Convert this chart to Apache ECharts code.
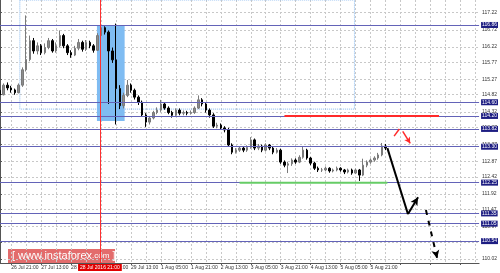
<!DOCTYPE html>
<html><head><meta charset="utf-8">
<script src="https://cdn.jsdelivr.net/npm/echarts@6/dist/echarts.min.js"></script>
<style>html,body{margin:0;padding:0;background:#fff}#c{width:500px;height:273px}</style>
</head><body><div id="c"></div>
<script>
// ---- data ----
const xTickLabels = ['26 Jul 21:00','27 Jul 13:00','28 Jul 05:00','28 Jul 21:00','29 Jul 13:00','1 Aug 05:00','1 Aug 21:00','2 Aug 13:00','3 Aug 05:00','3 Aug 21:00','4 Aug 13:00','5 Aug 05:00','5 Aug 21:00'];
const priceTicks = [117.22,116.72,116.22,115.77,115.27,114.82,114.32,113.87,113.37,112.87,112.42,111.92,111.47,110.97,110.52,110.02];
const levelLines = [116.86,114.60,114.20,113.82,113.30,112.25,111.35,111.05,110.54];
// [open, close, low, high] per 2-hour bar
const candles = [
[114.95,114.82,114.75,115.00],[114.82,115.10,114.80,115.15],[115.10,115.02,114.95,115.18],[115.02,114.96,114.88,115.08],
[114.96,114.88,114.82,115.00],[114.88,115.10,114.86,115.15],[115.10,115.55,115.05,115.62],[115.55,115.85,115.50,117.14],
[115.85,116.40,115.80,116.55],[116.40,116.10,116.02,116.48],[116.10,116.25,116.00,116.35],[116.25,116.05,115.98,116.30],
[116.05,116.20,116.00,116.32],[116.20,116.40,116.15,116.48],[116.40,116.10,116.05,116.45],[116.10,116.25,116.05,116.35],
[116.25,116.55,116.20,116.70],[116.55,116.25,116.18,116.60],[116.25,116.05,115.98,116.30],[116.05,115.98,115.90,116.12],
[115.98,116.18,115.95,116.25],[116.18,116.35,116.12,116.45],[116.35,116.15,116.08,116.40],[116.15,116.35,116.10,116.42],
[116.35,116.25,116.18,116.40],[116.25,116.12,116.05,116.30],[116.12,116.55,116.10,116.62],[116.55,116.78,116.50,116.88],
[116.78,116.65,116.58,116.82],[116.65,116.10,114.55,116.70],[116.10,115.84,115.75,116.20],[115.84,115.00,113.95,116.90],
[115.00,114.50,114.40,115.10],[114.50,114.80,114.42,114.88],[114.80,115.10,114.75,115.25],[115.10,114.95,114.88,115.15],
[114.95,114.75,114.68,115.00],[114.75,114.60,114.52,114.80],[114.60,114.23,114.18,114.65],[114.23,114.02,113.88,114.28],
[114.02,114.14,113.95,114.20],[114.14,114.30,114.10,114.35],[114.30,114.37,114.25,114.45],[114.37,114.55,114.32,114.67],
[114.55,114.43,114.38,114.60],[114.43,114.30,114.25,114.48],[114.30,114.22,114.15,114.35],[114.22,114.37,114.18,114.42],
[114.37,114.28,114.22,114.42],[114.28,114.30,114.22,114.36],[114.30,114.28,114.22,114.35],[114.28,114.30,114.24,114.36],
[114.30,114.43,114.26,114.48],[114.43,114.67,114.40,114.80],[114.67,114.55,114.48,114.72],[114.55,114.37,114.30,114.60],
[114.37,114.23,114.15,114.42],[114.23,113.90,113.85,114.28],[113.90,113.93,113.84,114.00],[113.93,113.85,113.80,113.98],
[113.85,113.79,113.72,113.90],[113.79,113.35,113.30,113.85],[113.35,113.14,113.08,113.40],[113.14,113.20,113.10,113.26],
[113.20,113.26,113.15,113.32],[113.26,113.20,113.14,113.30],[113.20,113.28,113.15,113.34],[113.28,113.50,113.24,113.58],
[113.50,113.26,113.20,113.54],[113.26,113.32,113.20,113.38],[113.32,113.20,113.14,113.36],[113.20,113.35,113.16,113.40],
[113.35,113.26,113.20,113.38],[113.26,113.14,113.08,113.30],[113.14,113.20,113.10,113.26],[113.20,112.85,112.80,113.24],
[112.85,112.76,112.70,112.90],[112.76,112.80,112.53,112.86],[112.80,112.91,112.74,112.96],[112.91,112.85,112.80,112.96],
[112.85,112.99,112.82,113.05],[112.99,113.20,112.95,113.32],[113.20,112.97,112.92,113.24],[112.97,112.82,112.76,113.00],
[112.82,112.67,112.62,112.86],[112.67,112.62,112.56,112.72],[112.62,112.62,112.56,112.68],[112.62,112.67,112.58,112.72],
[112.67,112.59,112.54,112.70],[112.59,112.62,112.55,112.66],[112.62,112.67,112.58,112.72],[112.67,112.62,112.57,112.70],
[112.62,112.56,112.50,112.65],[112.56,112.62,112.52,112.66],[112.62,112.53,112.48,112.66],[112.53,112.62,112.50,112.66],
[112.62,112.47,112.30,112.65],[112.47,112.76,112.44,112.95],[112.76,112.85,112.70,112.90],[112.85,112.91,112.80,112.96],
[112.91,112.97,112.86,113.02],[112.97,113.06,112.92,113.12],[113.06,113.32,113.02,113.41],[113.32,113.26,113.20,113.38]
];
// annotations in [bar index, price]
const resistance = [[76,114.20],[117.3,114.20]];
const support = [[64,112.25],[103.5,112.25]];
const highlightBox = [[25.9,116.86],[33.3,114.05]];
const dottedBox = [[5.3,117.59],[94.7,114.40]];
const cursorBar = 26.7;
const cursorLabel = '28 Jul 2016 21:00';
const forecastDrop = [[103.5,113.26],[109,111.33]];
const forecastBounce = [[109,111.33],[111.7,111.82]];
const forecastNext = [[113.8,111.45],[116.8,110.04]];
const redTickA = [[105.3,113.61],[106.7,113.82]];
const redTickB = [[107.6,113.75],[109.6,113.40]];

const nBars = 129, firstTick = 3, tickStep = 8, gridStep = 4;
const cats = Array.from({length:nBars},(_,i)=>String(i));
const yMin = 109.90, yMax = 117.59;

const chart = echarts.init(document.getElementById('c'), null, {renderer:'canvas'});
const font = 'Liberation Sans';
const isTick = i => i>=firstTick && (i-firstTick)%tickStep===0;
chart.setOption({
  animation:false,
  backgroundColor:'#fff',
  textStyle:{fontFamily:font},
  grid:{left:0,right:19,top:0,bottom:10,containLabel:false},
  xAxis:[{
    type:'category', data:cats, boundaryGap:false,
    axisLine:{show:true,lineStyle:{color:'#555',width:1}},
    axisTick:{show:true,length:2,interval:(i)=>isTick(i),lineStyle:{color:'#555'}},
    axisLabel:{interval:(i)=>isTick(i),formatter:(v,i)=>xTickLabels[(i-firstTick)/tickStep]||'',fontSize:5,color:'#333',align:'left',margin:2,fontFamily:font},
    splitLine:{show:true,interval:(i)=>i>=firstTick&&(i-firstTick)%gridStep===0,lineStyle:{color:'#c8c8c8',type:[2,2],width:1}}
  },{
    type:'value', min:0, max:nBars-1, show:false
  }],
  yAxis:[{
    type:'value', position:'right', min:yMin, max:yMax,
    axisLine:{show:true,lineStyle:{color:'#555'}},
    axisTick:{show:true,length:2,customValues:priceTicks,lineStyle:{color:'#555'}},
    axisLabel:{customValues:priceTicks,formatter:v=>v.toFixed(2),fontSize:5,color:'#333',margin:3,fontFamily:font},
    splitLine:{show:true,lineStyle:{color:'#c8c8c8',type:[2,2],width:1}}
  }],
  series:[
    {type:'line', xAxisIndex:1, data:[], z:1, silent:true,
     markArea:{silent:true, z:1, data:[
       [{coord:highlightBox[0], itemStyle:{color:'#7fbcf2',opacity:1}},{coord:highlightBox[1]}],
       [{coord:dottedBox[0], itemStyle:{color:'rgba(0,0,0,0)',borderColor:'#86b8ee',borderWidth:1,borderType:'dotted'}},{coord:dottedBox[1]}]
     ]}
    },
    {type:'candlestick', data:candles, barWidth:2, z:3,
     itemStyle:{color:'#8c8c8c',color0:'#000',borderColor:'#7a7a7a',borderColor0:'#000',borderWidth:1},
     markLine:{silent:true, z:4, symbol:['none','none'], animation:false,
       lineStyle:{color:'#6363b8',width:1,type:'solid'},
       label:{position:'end',formatter:p=>p.value.toFixed(2),backgroundColor:'#1d1d82',color:'#fff',fontSize:5,padding:[1,1,0,1],distance:2,fontFamily:font},
       data:levelLines.map(v=>({yAxis:v}))}
    },
    {type:'line', xAxisIndex:1, data:resistance, symbol:'none', z:8, color:'#ff2a2a', itemStyle:{color:'#ff2a2a'}, lineStyle:{color:'#ff2a2a',width:2}},
    {type:'line', xAxisIndex:1, data:support, symbol:'none', z:8, color:'#66cc66', itemStyle:{color:'#66cc66'}, lineStyle:{color:'#66cc66',width:2}},
    {type:'line', xAxisIndex:1, data:forecastDrop, symbol:'none', z:9, color:'#000', lineStyle:{color:'#000',width:2},
     markLine:{silent:true, z:9, symbol:['none','none'], animation:false, label:{show:false},
       data:[
         [{coord:[cursorBar,yMin],lineStyle:{color:'#ff3030',width:1,type:'solid'},
           label:{show:true,position:'start',formatter:cursorLabel,backgroundColor:'#e00000',color:'#fff',fontSize:5,padding:[1,2],distance:1}},
          {coord:[cursorBar,yMax]}],
         [{coord:forecastBounce[0],symbol:'none',lineStyle:{color:'#000',width:2,type:'solid'}},{coord:forecastBounce[1],symbol:'arrow',symbolSize:[6,8]}],
         [{coord:forecastNext[0],symbol:'none',lineStyle:{color:'#000',width:2,type:[5,6]}},{coord:forecastNext[1],symbol:'arrow',symbolSize:[6,8]}],
         [{coord:redTickA[0],lineStyle:{color:'#ff2a2a',width:1.5,type:'solid'}},{coord:redTickA[1]}],
         [{coord:redTickB[0],symbol:'none',lineStyle:{color:'#ff2a2a',width:1.5,type:'solid'}},{coord:redTickB[1],symbol:'arrow',symbolSize:[5,6]}]
       ]}
    }
  ],
  graphic:[{
    type:'group', left:8, top:249, children:[
      {type:'rect', shape:{x:0,y:0,width:107,height:15}, style:{fill:'rgba(222,82,82,0.85)'}},
      {type:'text', x:4, y:1.5, style:{text:'{a|[ www.instaforex}{b|.com}{a| ]}', rich:{a:{fontSize:11,fill:'#fff',fontFamily:font},b:{fontSize:8,fill:'#fff',fontFamily:font}}}}
    ]
  }]
});
</script></body></html>
